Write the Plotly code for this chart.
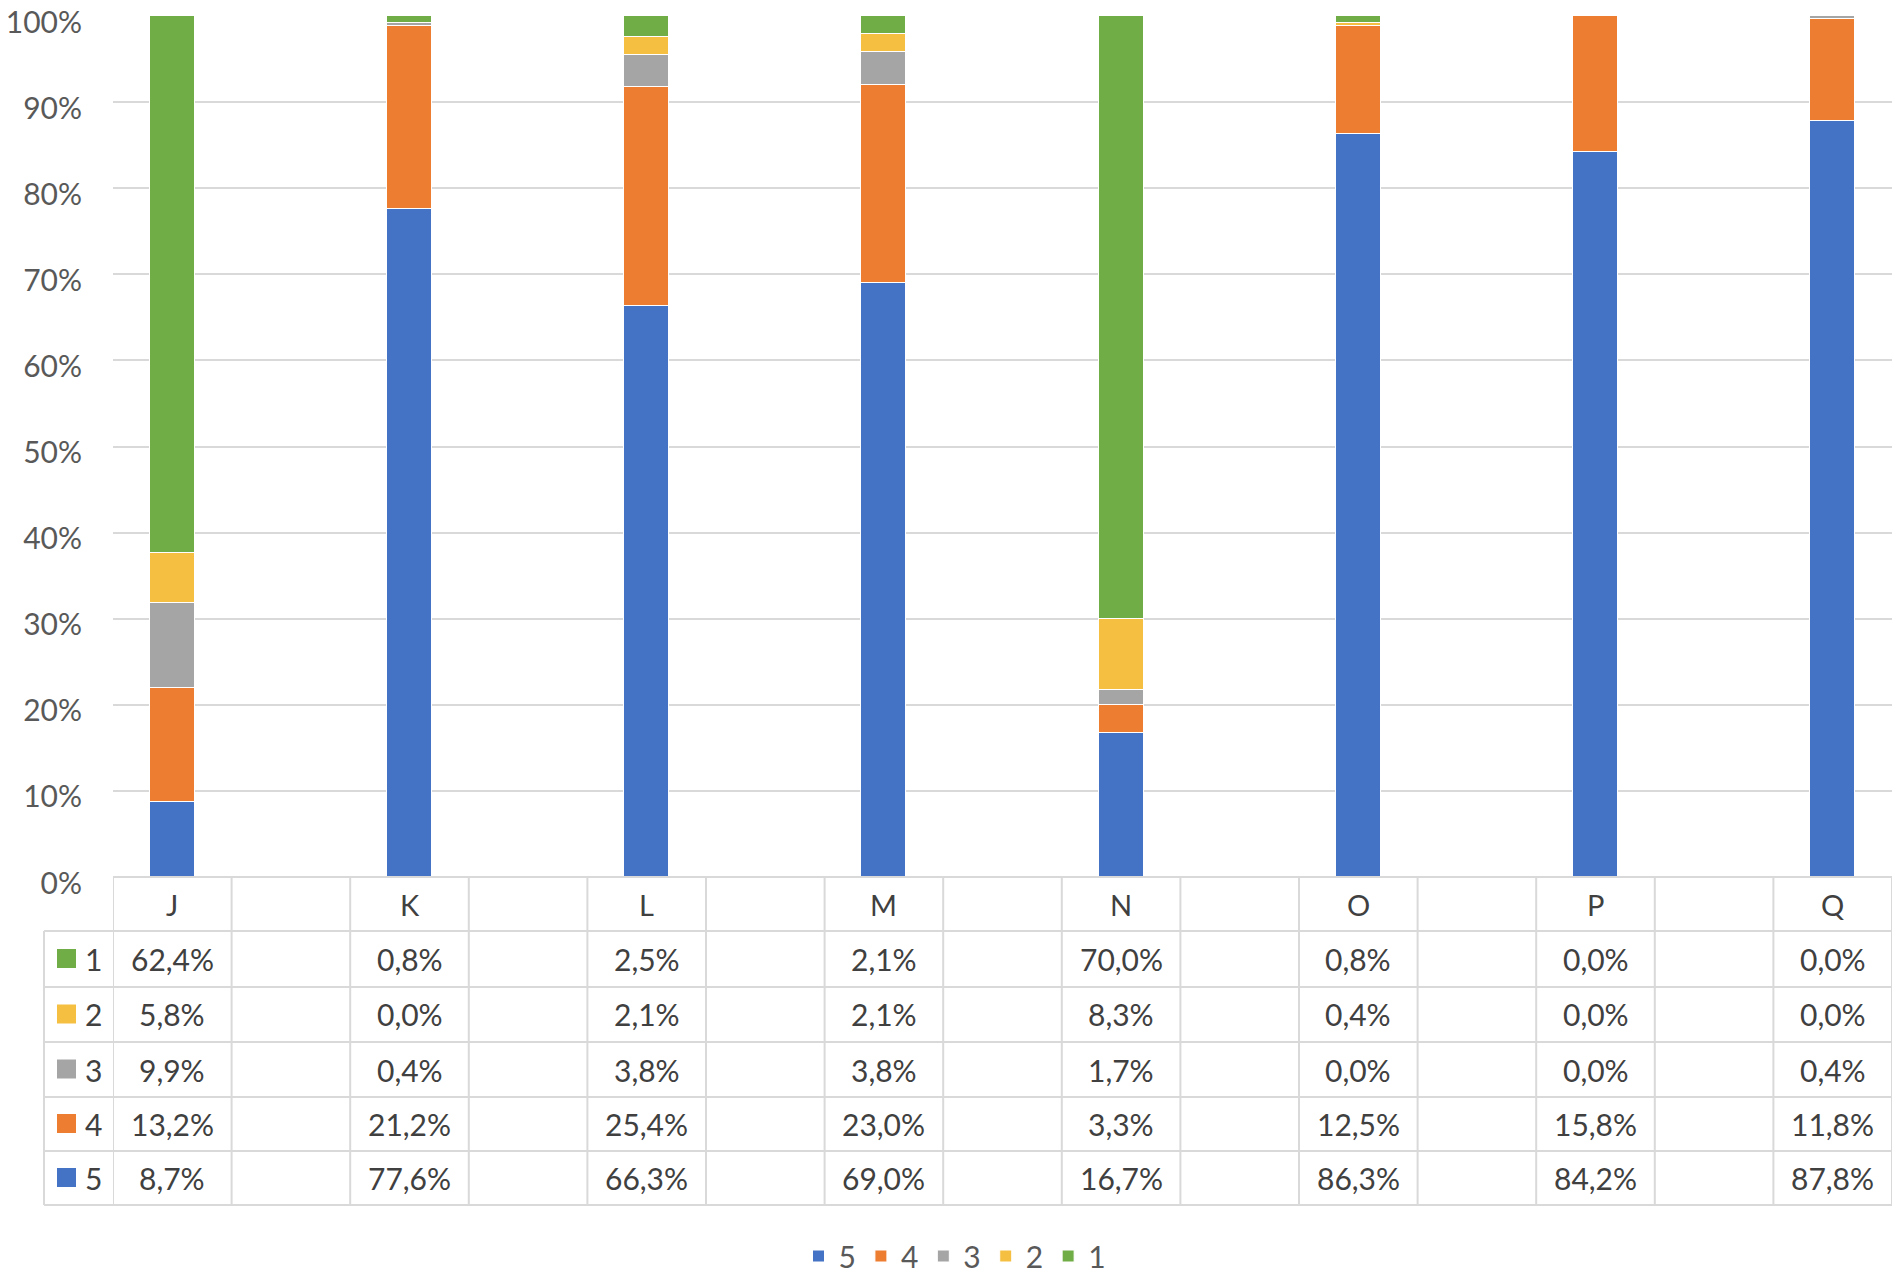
import plotly.graph_objects as go

# categories and shares (%) per answer level
categories = ["J", "K", "L", "M", "N", "O", "P", "Q"]

level_1 = [62.4, 0.8, 2.5, 2.1, 70.0, 0.8, 0.0, 0.0]
level_2 = [5.8, 0.0, 2.1, 2.1, 8.3, 0.4, 0.0, 0.0]
level_3 = [9.9, 0.4, 3.8, 3.8, 1.7, 0.0, 0.0, 0.4]
level_4 = [13.2, 21.2, 25.4, 23.0, 3.3, 12.5, 15.8, 11.8]
level_5 = [8.7, 77.6, 66.3, 69.0, 16.7, 86.3, 84.2, 87.8]

series_names = ["5", "4", "3", "2", "1"]
series_values = [level_5, level_4, level_3, level_2, level_1]
series_colors = ["#4472C4", "#ED7D31", "#A5A5A5", "#F5BF42", "#70AD47"]

# table rows go top to bottom 1..5
table_names = ["1", "2", "3", "4", "5"]
table_values = [level_1, level_2, level_3, level_4, level_5]
table_colors = ["#70AD47", "#F5BF42", "#A5A5A5", "#ED7D31", "#4472C4"]

# the page puts the plot 8px in from the top-left corner
OFF = 8
W, H = 1902 - OFF, 1277 - OFF
L, R, T = 113 - OFF, 10, 16 - OFF
B = H - (877 - OFF)
FONT = "Lato"
GRID = "#D9D9D9"
TXT = "#404040"


def px(xpix):
    # screen pixel -> paper x
    return (xpix - OFF - L) / (W - L - R)


def py(ypix):
    # screen pixel -> paper y
    return (H - B - (ypix - OFF)) / (H - T - B)


# every category sits in every other slot, with empty slots in between
n_slots = 2 * len(categories) - 1
xpos = [2 * i for i in range(len(categories))]

fig = go.Figure()

for name, vals, color in zip(series_names, series_values, series_colors):
    fig.add_trace(
        go.Bar(
            x=xpos,
            y=[v / 100 for v in vals],
            name=name,
            width=0.38,
            marker=dict(color=color, line=dict(color="white", width=1)),
        )
    )

shapes = []
annotations = []

# table geometry in screen pixels
table_left = 44
header_top = 877
row_lines = [931, 987, 1042, 1097, 1151, 1205]

# horizontal lines
shapes.append(dict(type="line", xref="paper", yref="paper",
                   x0=0, x1=1, y0=py(header_top), y1=py(header_top),
                   line=dict(color=GRID, width=2)))
for yl in row_lines:
    shapes.append(dict(type="line", xref="paper", yref="paper",
                       x0=px(table_left), x1=1, y0=py(yl), y1=py(yl),
                       line=dict(color=GRID, width=2)))

# vertical lines
for k in range(n_slots + 1):
    shapes.append(dict(type="line", xref="x", yref="paper",
                       x0=k - 0.5, x1=k - 0.5,
                       y0=py(header_top), y1=py(row_lines[-1]),
                       line=dict(color=GRID, width=2)))
shapes.append(dict(type="line", xref="paper", yref="paper",
                   x0=px(table_left), x1=px(table_left),
                   y0=py(row_lines[0]), y1=py(row_lines[-1]),
                   line=dict(color=GRID, width=2)))

# header letters
for x, cat in zip(xpos, categories):
    annotations.append(dict(x=x, y=py((header_top + row_lines[0]) / 2),
                            xref="x", yref="paper", text=cat, showarrow=False,
                            xanchor="center", yanchor="middle",
                            font=dict(size=29, color=TXT, family=FONT)))

# body rows
for r, (name, vals, color) in enumerate(zip(table_names, table_values, table_colors)):
    yc = (row_lines[r] + row_lines[r + 1]) / 2
    shapes.append(dict(type="rect", xref="paper", yref="paper",
                       x0=px(57), x1=px(76), y0=py(yc - 10), y1=py(yc + 9),
                       fillcolor=color, line=dict(width=0)))
    annotations.append(dict(x=px(93), y=py(yc), xref="paper", yref="paper",
                            text=name, showarrow=False,
                            xanchor="center", yanchor="middle",
                            font=dict(size=30, color=TXT, family=FONT)))
    for x, v in zip(xpos, vals):
        annotations.append(dict(x=x, y=py(yc), xref="x", yref="paper",
                                text=f"{v:.1f}%".replace(".", ","),
                                showarrow=False,
                                xanchor="center", yanchor="middle",
                                font=dict(size=30, color=TXT, family=FONT)))

fig.update_layout(
    barmode="stack",
    width=W,
    height=H,
    margin=dict(l=L, r=R, t=T, b=B, autoexpand=False),
    paper_bgcolor="white",
    plot_bgcolor="white",
    font=dict(family=FONT, color="#595959", size=28),
    bargap=0,
    shapes=shapes,
    annotations=annotations,
    legend=dict(
        orientation="h",
        traceorder="normal",
        x=px(955),
        xanchor="center",
        y=py(1256),
        yanchor="middle",
        font=dict(size=30, color="#595959", family=FONT),
        itemwidth=30,
    ),
)

fig.update_xaxes(range=[-0.5, n_slots - 0.5], showticklabels=False,
                 showgrid=False, zeroline=False, showline=False)
fig.update_yaxes(range=[0, 1], dtick=0.1, tickformat=".0%",
                 showgrid=True, gridcolor=GRID, gridwidth=2,
                 zeroline=False, showline=False, ticks="",
                 automargin=False,
                 ticklabeloverflow="allow",
                 ticklabelshift=6,
                 ticklabelstandoff=30,
                 tickfont=dict(size=30, color="#595959", family=FONT))

fig.write_html("out.html")
